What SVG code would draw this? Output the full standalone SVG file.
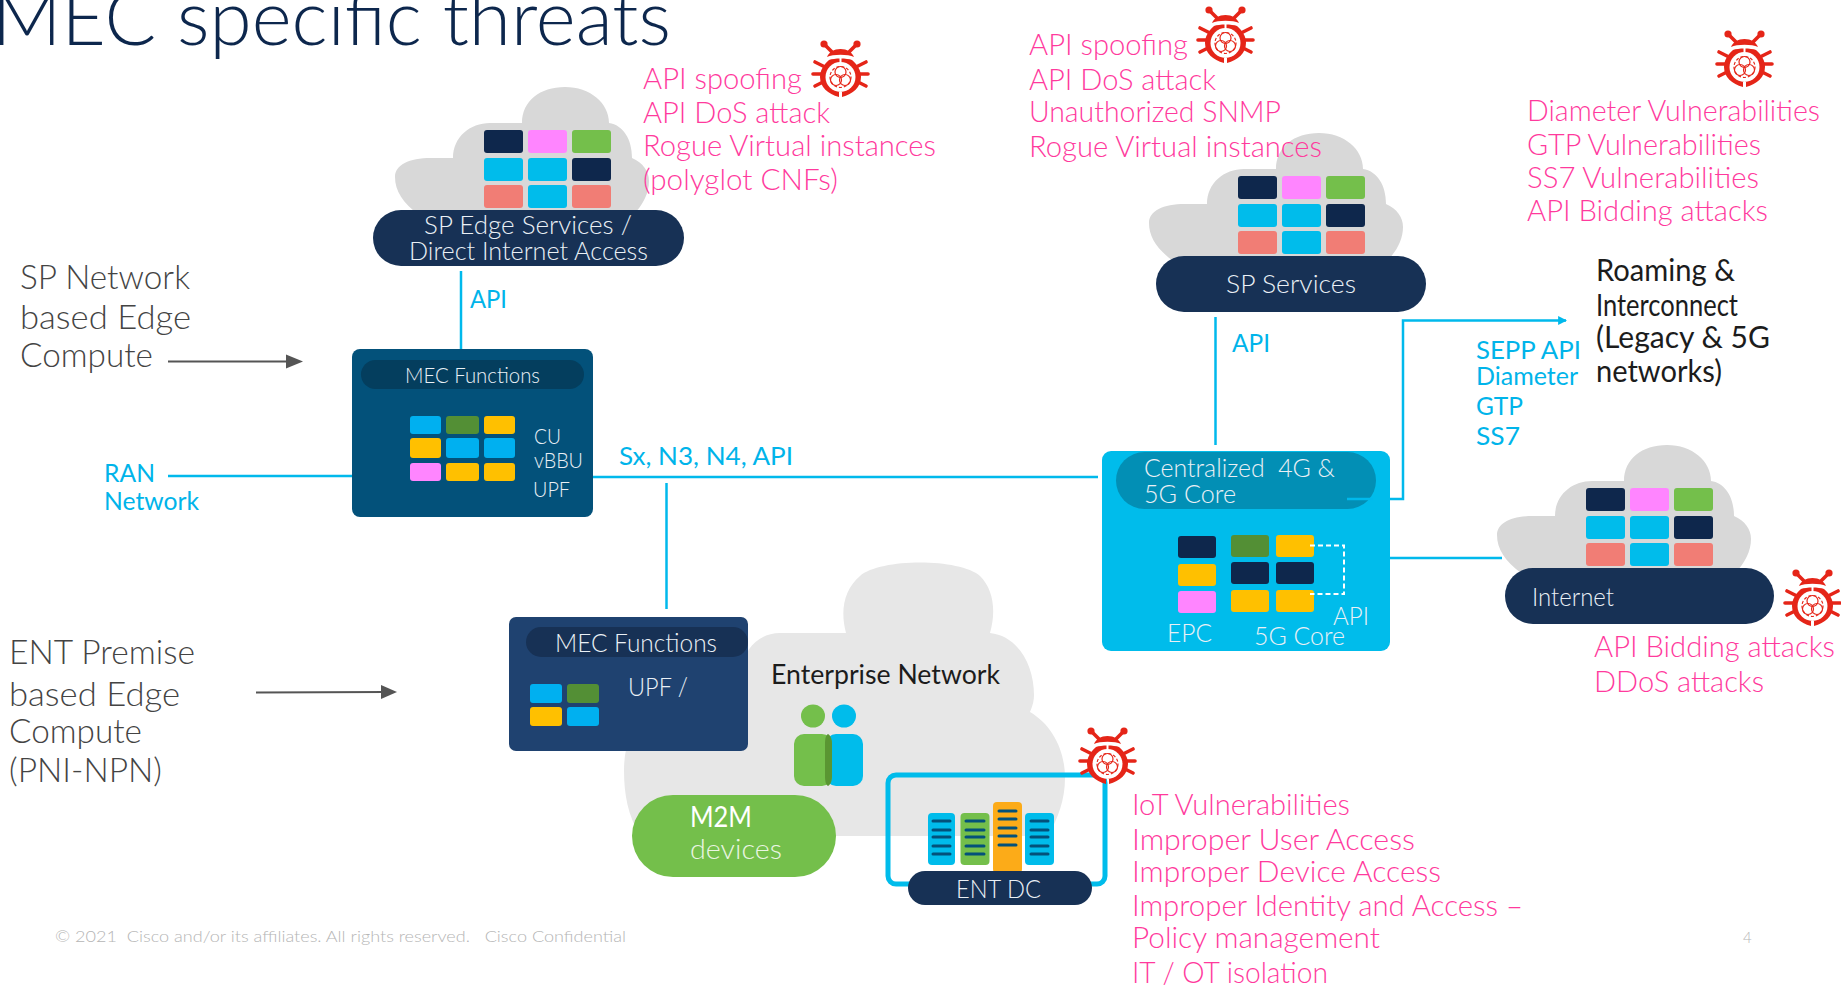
<svg xmlns="http://www.w3.org/2000/svg" xmlns:xlink="http://www.w3.org/1999/xlink" width="1841" height="986" viewBox="0 0 1841 986">
<style>
text{font-family:"Lato","Liberation Sans",sans-serif;font-weight:300}
.pk{fill:#ff3a9d;font-size:30px}
.cy{fill:#00b4ea;font-size:25px;font-weight:400}
.wh{fill:#eaf0f6;font-size:25px}
.gy{fill:#444;font-size:33px}
.bk{fill:#1c1c1c;font-size:31px;font-weight:400}
.ln{stroke:#00b9ec;stroke-width:2.5;fill:none}
.nv{fill:#0e274c}.pi{fill:#ff85ff}.gr{fill:#74bf4b}.sk{fill:#00bceb}.sa{fill:#f17d75}
.bl{fill:#00b0f0}.dg{fill:#538f35}.yl{fill:#ffc000}
.sl{stroke:#03517a;stroke-width:3;stroke-linecap:round}
</style>
<defs>
<marker id="ac" markerWidth="9" markerHeight="9" refX="7" refY="4" orient="auto" markerUnits="userSpaceOnUse" viewBox="0 0 8 8" ><path d="M0,0L8,4L0,8z" fill="#00b9ec"/></marker>
<g id="cloud">
<path fill="#d8d8d8" d="M24,128C8,116 0,104 0,90C0,78 14,71 36,71H58C58,50 75,36 95,36H127C127,14 145,0 170,0C195,0 214,16 214,36C228,38 237,52 237,71C248,76 254,84 254,94C254,106 248,118 238,128Z"/>
<rect class="nv" x="89" y="43" width="39" height="23" rx="3"/><rect class="pi" x="133" y="43" width="39" height="23" rx="3"/><rect class="gr" x="177" y="43" width="39" height="23" rx="3"/>
<rect class="sk" x="89" y="71" width="39" height="23" rx="3"/><rect class="sk" x="133" y="71" width="39" height="23" rx="3"/><rect class="nv" x="177" y="71" width="39" height="23" rx="3"/>
<rect class="sa" x="89" y="98" width="39" height="23" rx="3"/><rect class="sk" x="133" y="98" width="39" height="23" rx="3"/><rect class="sa" x="177" y="98" width="39" height="23" rx="3"/>
</g>
<g id="bug">
<g stroke="#e52518" stroke-width="3.6" stroke-linecap="round" fill="none">
<path d="M12,4L20,12M45,4L37,12"/><path d="M1,34H11M3,22L13,27M3,46L13,41M56,34H46M54,22L44,27M54,46L44,41"/>
</g>
<circle cx="12" cy="4" r="3.6" fill="#e52518"/><circle cx="45" cy="4" r="3.6" fill="#e52518"/>
<path fill="#e52518" d="M15,17C17,12 22,9 28.500,9C35,9 40,12 42,17C36,14 21,14 15,17Z"/>
<path fill="#e52518" d="M17,20C22,18 35,18 40,20C46,25 49,31 49,37C49,47 41,54 30,57V52H27V57C16,54 8,47 8,37C8,31 11,25 17,20Z"/>
<circle cx="28.500" cy="37" r="15" fill="#fff"/><path d="M28.500,18V24" stroke="#fff" stroke-width="2"/>
<g fill="none" stroke="#e52518" stroke-width="1.200"><circle cx="28.500" cy="32" r="5.500"/><circle cx="24" cy="40" r="5.500"/><circle cx="33" cy="40" r="5.500"/><circle cx="28.500" cy="37" r="10.500" stroke-dasharray="3 2"/></g>
</g>
</defs>
<rect width="1841" height="986" fill="#fff"/>

<g id="enterprise-cloud"><path fill="#e7e7e7" d="M640,836C628,815 624,795 624,770C624,720 660,690 700,690H743V670C743,648 760,633 780,633H846C840,610 844,590 860,576C880,558 960,558 980,576C994,590 996,612 990,633C1018,636 1034,665 1034,695C1034,700 1033,705 1030,712C1052,725 1065,750 1065,778C1065,800 1058,818 1048,836Z"/></g>

<g id="connectors">
<path class="ln" d="M461,271V349"/>
<path class="ln" d="M168,476H352"/>
<path class="ln" d="M592,477H1098"/>
<path class="ln" d="M666.500,483V609"/>
<path class="ln" d="M1215.500,317V445"/>
<path class="ln" d="M1390,558H1502"/>
<path class="ln" d="M1347,499H1403V320.500H1566" marker-end="url(#ac)"/>
<path d="M168,361.500H292" stroke="#555" stroke-width="2" fill="none"/><path d="M286,354.500L303,361.500L286,368.500z" fill="#555"/>
<path d="M256,692.500L386,692" stroke="#555" stroke-width="2" fill="none"/><path d="M381,685L397,692L381,699z" fill="#555"/>
</g>

<g id="sp-edge"><use href="#cloud" x="395" y="87"/><rect x="373" y="210" width="311" height="56" rx="28" fill="#173155"/>
<text class="wh" x="424" y="234" textLength="208" lengthAdjust="spacingAndGlyphs">SP Edge Services /</text>
<text class="wh" x="409" y="260" textLength="239" lengthAdjust="spacingAndGlyphs">Direct Internet Access</text></g>

<g id="sp-services"><use href="#cloud" x="1149" y="133"/><rect x="1156" y="256" width="270" height="56" rx="28" fill="#173155"/>
<text class="wh" x="1226" y="293" textLength="130" lengthAdjust="spacingAndGlyphs">SP Services</text></g>

<g id="internet"><use href="#cloud" x="1497" y="445"/><rect x="1505" y="568" width="269" height="56" rx="28" fill="#173155"/>
<text class="wh" x="1532" y="606" textLength="82" lengthAdjust="spacingAndGlyphs">Internet</text></g>

<g id="mec-sp"><rect x="352" y="349" width="241" height="168" rx="8" fill="#03517a"/><rect x="361" y="360" width="223" height="29" rx="14.500" fill="#043e5e"/>
<text class="wh" x="405" y="383" style="font-size:21px" textLength="135" lengthAdjust="spacingAndGlyphs">MEC Functions</text>
<rect class="bl" x="410" y="416" width="31" height="18" rx="3"/><rect class="dg" x="446" y="416" width="33" height="18" rx="3"/><rect class="yl" x="484" y="416" width="31" height="18" rx="3"/>
<rect class="yl" x="410" y="438" width="31" height="20" rx="3"/><rect class="bl" x="446" y="438" width="33" height="20" rx="3"/><rect class="bl" x="484" y="438" width="31" height="20" rx="3"/>
<rect class="pi" x="410" y="463" width="31" height="18" rx="3"/><rect class="yl" x="446" y="463" width="33" height="18" rx="3"/><rect class="yl" x="484" y="463" width="31" height="18" rx="3"/>
<text class="wh" x="534" y="444" style="font-size:22px" textLength="27" lengthAdjust="spacingAndGlyphs">CU</text>
<text class="wh" x="534" y="468" style="font-size:22px" textLength="49" lengthAdjust="spacingAndGlyphs">vBBU</text>
<text class="wh" x="533" y="497" style="font-size:22px" textLength="37" lengthAdjust="spacingAndGlyphs">UPF</text></g>

<g id="core"><rect x="1102" y="451" width="288" height="200" rx="9" fill="#00bceb"/><rect x="1116" y="452" width="260" height="57" rx="28.500" fill="#028fb5"/>
<path d="M1347,499H1373" stroke="#00b9ec" stroke-width="2.500"/>
<text class="wh" x="1144" y="477" xml:space="preserve" textLength="191" lengthAdjust="spacingAndGlyphs">Centralized  4G &amp;</text>
<text class="wh" x="1144" y="503" textLength="92" lengthAdjust="spacingAndGlyphs">5G Core</text>
<rect class="nv" x="1178" y="536" width="38" height="22" rx="3"/><rect class="yl" x="1178" y="564" width="38" height="22" rx="3"/><rect class="pi" x="1178" y="591" width="38" height="22" rx="3"/>
<rect class="dg" x="1231" y="535" width="38" height="22" rx="3"/><rect class="yl" x="1276" y="535" width="38" height="22" rx="3"/>
<rect class="nv" x="1231" y="562" width="38" height="22" rx="3"/><rect class="nv" x="1276" y="562" width="38" height="22" rx="3"/>
<rect class="yl" x="1231" y="590" width="38" height="22" rx="3"/><rect class="yl" x="1276" y="590" width="38" height="22" rx="3"/>
<path d="M1310,545.500H1344V594H1310" fill="none" stroke="#fff" stroke-width="2" stroke-dasharray="5 3"/>
<text class="wh" x="1167" y="642" textLength="45" lengthAdjust="spacingAndGlyphs">EPC</text>
<text class="wh" x="1254" y="645" textLength="91" lengthAdjust="spacingAndGlyphs">5G Core</text>
<text class="wh" x="1333" y="625" textLength="36" lengthAdjust="spacingAndGlyphs">API</text></g>

<g id="mec-ent"><rect x="509" y="617" width="239" height="134" rx="7" fill="#1f4270"/><rect x="526" y="627" width="222" height="30" rx="15" fill="#173155"/>
<text class="wh" x="555" y="652" textLength="162" lengthAdjust="spacingAndGlyphs">MEC Functions</text>
<text class="wh" x="628" y="696" textLength="60" lengthAdjust="spacingAndGlyphs">UPF /</text>
<rect class="bl" x="530" y="684" width="32" height="19" rx="3"/><rect class="dg" x="567" y="684" width="32" height="19" rx="3"/>
<rect class="yl" x="530" y="707" width="32" height="19" rx="3"/><rect class="bl" x="567" y="707" width="32" height="19" rx="3"/></g>

<g id="users">
<ellipse cx="813" cy="716" rx="12" ry="11.500" fill="#74bf4b"/><ellipse cx="844" cy="716" rx="12" ry="11.500" fill="#00bceb"/>
<rect x="826" y="734" width="37" height="52" rx="10" fill="#00bceb"/><rect x="794" y="734" width="38" height="52" rx="10" fill="#74bf4b"/>
<path d="M828,734C830,735 832,738 832,744V776C832,782 830,785 828,786C826,785 825,782 825,776V744C825,738 826,735 828,734Z" fill="#5a9632"/></g>

<g id="m2m"><rect x="632" y="795" width="204" height="82" rx="41" fill="#74bf4b"/>
<text x="690" y="827" fill="#fff" style="font-size:28px;font-weight:400" textLength="62" lengthAdjust="spacingAndGlyphs">M2M</text>
<text x="690" y="859" fill="#eaf5e2" style="font-size:28px" textLength="92" lengthAdjust="spacingAndGlyphs">devices</text></g>

<g id="ent-dc"><rect x="888" y="775" width="217" height="109" rx="8" fill="none" stroke="#00bceb" stroke-width="5"/>
<rect class="sk" x="928" y="813" width="27" height="52" rx="4"/><rect class="gr" x="960.500" y="813" width="29" height="52" rx="4"/><rect x="993" y="802" width="29" height="71" rx="4" fill="#fcab18"/><rect class="sk" x="1025" y="813" width="29" height="52" rx="4"/>
<path class="sl" d="M933,821H950M933,830H950M933,837H950M933,846H950M933,854H950M966,821H984M966,830H984M966,837H984M966,846H984M966,854H984M1031,821H1048M1031,830H1048M1031,837H1048M1031,846H1048M1031,854H1048M999,811H1016M999,819H1016M999,828H1016M999,836H1016M999,845H1016"/>
<rect x="908" y="871" width="184" height="34" rx="17" fill="#173155"/>
<text class="wh" x="956" y="898" textLength="85" lengthAdjust="spacingAndGlyphs">ENT DC</text></g>

<g id="threat-icons">
<use href="#bug" x="812" y="40"/><use href="#bug" x="1197" y="6"/><use href="#bug" x="1716" y="30"/><use href="#bug" x="1784" y="569"/><use href="#bug" x="1079" y="727"/>
</g>

<g id="labels">
<text x="-8" y="45" fill="#0d274d" style="font-size:76px" textLength="679" lengthAdjust="spacingAndGlyphs">MEC specific threats</text>
<text class="bk" x="771" y="684" fill="#222" style="font-size:27px" textLength="229" lengthAdjust="spacingAndGlyphs">Enterprise Network</text>

<text class="cy" x="470" y="308" textLength="37" lengthAdjust="spacingAndGlyphs">API</text>
<text class="cy" x="619" y="465" textLength="174" lengthAdjust="spacingAndGlyphs">Sx, N3, N4, API</text>
<text class="cy" x="1232" y="352" textLength="38" lengthAdjust="spacingAndGlyphs">API</text>
<text class="cy" x="1476" y="359" textLength="105" lengthAdjust="spacingAndGlyphs">SEPP API</text>
<text class="cy" x="1476" y="385" textLength="102" lengthAdjust="spacingAndGlyphs">Diameter</text>
<text class="cy" x="1476" y="415" textLength="47" lengthAdjust="spacingAndGlyphs">GTP</text>
<text class="cy" x="1476" y="445" textLength="44" lengthAdjust="spacingAndGlyphs">SS7</text>
<text class="cy" x="104" y="482" textLength="51" lengthAdjust="spacingAndGlyphs">RAN</text>
<text class="cy" x="104" y="510" textLength="95" lengthAdjust="spacingAndGlyphs">Network</text>

<text class="gy" x="20" y="289" textLength="170" lengthAdjust="spacingAndGlyphs">SP Network</text>
<text class="gy" x="20" y="329" textLength="171" lengthAdjust="spacingAndGlyphs">based Edge</text>
<text class="gy" x="20" y="367" textLength="133" lengthAdjust="spacingAndGlyphs">Compute</text>
<text class="gy" x="9" y="664" textLength="186" lengthAdjust="spacingAndGlyphs">ENT Premise</text>
<text class="gy" x="9" y="706" textLength="171" lengthAdjust="spacingAndGlyphs">based Edge</text>
<text class="gy" x="9" y="743" textLength="133" lengthAdjust="spacingAndGlyphs">Compute</text>
<text class="gy" x="9" y="782" textLength="153" lengthAdjust="spacingAndGlyphs">(PNI-NPN)</text>

<text class="bk" x="1596" y="281" textLength="139" lengthAdjust="spacingAndGlyphs">Roaming &amp;</text>
<text class="bk" x="1596" y="316" textLength="142" lengthAdjust="spacingAndGlyphs">Interconnect</text>
<text class="bk" x="1596" y="348" textLength="174" lengthAdjust="spacingAndGlyphs">(Legacy &amp; 5G</text>
<text class="bk" x="1596" y="382" textLength="126" lengthAdjust="spacingAndGlyphs">networks)</text>

<text class="pk" x="643" y="89" textLength="159" lengthAdjust="spacingAndGlyphs">API spoofing</text>
<text class="pk" x="643" y="123" textLength="187" lengthAdjust="spacingAndGlyphs">API DoS attack</text>
<text class="pk" x="643" y="156" textLength="293" lengthAdjust="spacingAndGlyphs">Rogue Virtual instances</text>
<text class="pk" x="643" y="190" textLength="195" lengthAdjust="spacingAndGlyphs">(polyglot CNFs)</text>

<text class="pk" x="1029" y="55" textLength="159" lengthAdjust="spacingAndGlyphs">API spoofing</text>
<text class="pk" x="1029" y="90" textLength="187" lengthAdjust="spacingAndGlyphs">API DoS attack</text>
<text class="pk" x="1029" y="122" textLength="252" lengthAdjust="spacingAndGlyphs">Unauthorized SNMP</text>
<text class="pk" x="1029" y="157" textLength="293" lengthAdjust="spacingAndGlyphs">Rogue Virtual instances</text>

<text class="pk" x="1527" y="121" textLength="293" lengthAdjust="spacingAndGlyphs">Diameter Vulnerabilities</text>
<text class="pk" x="1527" y="155" textLength="234" lengthAdjust="spacingAndGlyphs">GTP Vulnerabilities</text>
<text class="pk" x="1527" y="188" textLength="232" lengthAdjust="spacingAndGlyphs">SS7 Vulnerabilities</text>
<text class="pk" x="1527" y="221" textLength="241" lengthAdjust="spacingAndGlyphs">API Bidding attacks</text>

<text class="pk" x="1594" y="657" textLength="241" lengthAdjust="spacingAndGlyphs">API Bidding attacks</text>
<text class="pk" x="1594" y="692" textLength="170" lengthAdjust="spacingAndGlyphs">DDoS attacks</text>

<text class="pk" x="1132" y="815" textLength="218" lengthAdjust="spacingAndGlyphs">IoT Vulnerabilities</text>
<text class="pk" x="1132" y="850" textLength="283" lengthAdjust="spacingAndGlyphs">Improper User Access</text>
<text class="pk" x="1132" y="882" textLength="309" lengthAdjust="spacingAndGlyphs">Improper Device Access</text>
<text class="pk" x="1132" y="916" textLength="391" lengthAdjust="spacingAndGlyphs">Improper Identity and Access –</text>
<text class="pk" x="1132" y="948" textLength="248" lengthAdjust="spacingAndGlyphs">Policy management</text>
<text class="pk" x="1132" y="983" textLength="196" lengthAdjust="spacingAndGlyphs">IT / OT isolation</text>

<text x="55" y="942" fill="#b5b5b5" style="font-size:16px" xml:space="preserve" textLength="571" lengthAdjust="spacingAndGlyphs">© 2021  Cisco and/or its affiliates. All rights reserved.   Cisco Confidential</text>
<text x="1743" y="943" fill="#b5b5b5" style="font-size:15px">4</text>
</g>
</svg>
